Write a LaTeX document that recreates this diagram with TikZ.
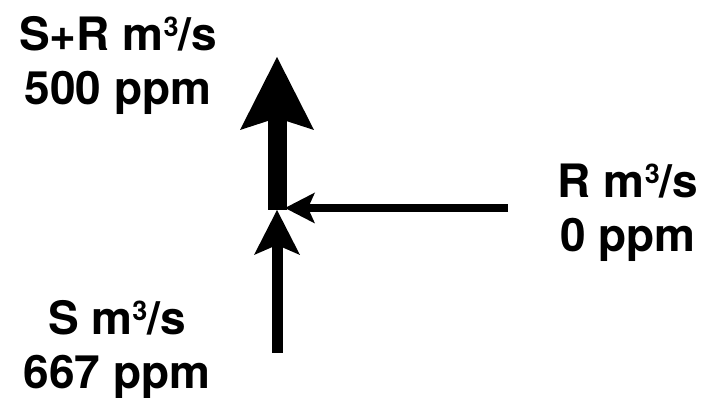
\documentclass[tikz,border=0pt]{standalone}
\usepackage{fontspec}
\setmainfont{TeX Gyre Heros}
\usetikzlibrary{arrows.meta}
% superscript three set as a raised, smaller digit
\newcommand{\cubed}{\raisebox{14pt}{\fontsize{27}{27}\selectfont 3}}
\tikzset{
  flowlabel/.style={font=\bfseries\fontsize{46}{54}\selectfont, align=center, inner sep=0pt},
  mainflow/.style={line width=19pt, -{Stealth[length=73pt 0 0, width=74pt 0 0, inset=12pt 0 0, line width=0pt]}},
  inflow/.style={line width=11pt, -{Stealth[length=45pt 0 0, width=46pt 0 0, inset=10pt 0 0, line width=0pt]}},
  sideflow/.style={line width=8pt, -{Stealth[length=30pt 0 0, width=31pt 0 0, inset=7pt 0 0, line width=0pt]}},
}
\begin{document}
\begin{tikzpicture}[x=1pt, y=1pt]
  \useasboundingbox (0,0) rectangle (706,398);
  % labels
  \node[flowlabel] (mix) at (118,333) {S+R m\cubed/s\\500 ppm};
  \node[flowlabel] (rec) at (628,185) {R m\cubed/s\\0 ppm};
  \node[flowlabel] (src) at (117,49) {S m\cubed/s\\667 ppm};
  % junction and free ends of the flows
  \coordinate (junc) at (277,188);
  \coordinate (outtip) at (277,341);
  \coordinate (srcstart) at (277,45);
  \coordinate (recstart) at (508,190);
  \coordinate (rectip) at (285,190);
  % flows
  \draw[mainflow] (junc) -- (outtip);
  \draw[inflow] (srcstart) -- (junc);
  \draw[sideflow] (recstart) -- (rectip);
\end{tikzpicture}
\end{document}
